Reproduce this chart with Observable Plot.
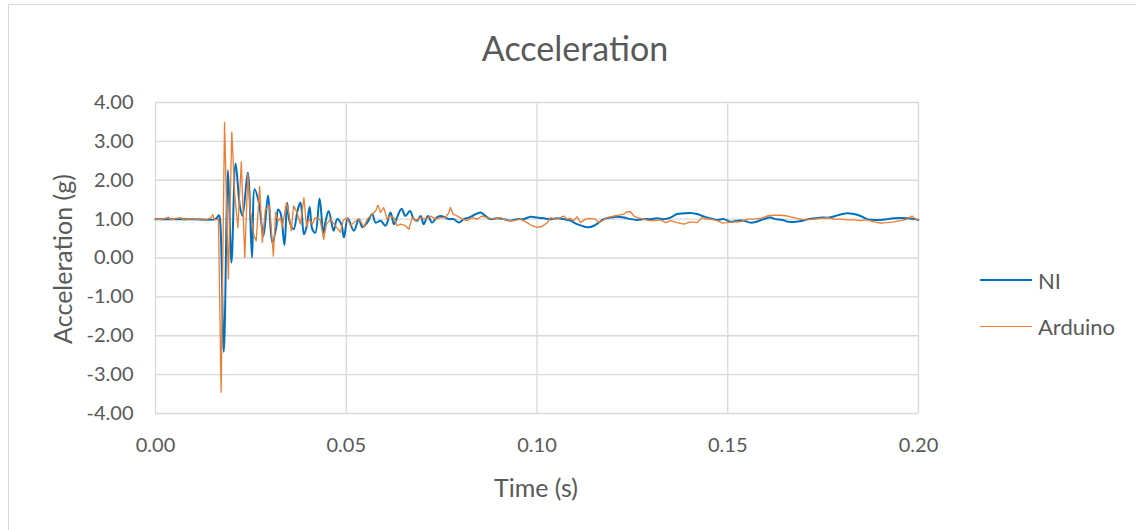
<!DOCTYPE html>
<html><head><meta charset="utf-8">
<script src="https://cdn.jsdelivr.net/npm/d3@7"></script>
<script src="https://cdn.jsdelivr.net/npm/@observablehq/plot@0.6"></script>
<style>
body{margin:0;background:#fff;overflow:hidden;}
#wrap{position:relative;width:1136px;height:530px;overflow:hidden;font-family:Lato,sans-serif;color:#595959;background:#fff;}
#frame{position:absolute;left:8px;top:4px;width:1140px;height:540px;border:1px solid #d9d9d9;box-sizing:border-box;}
#title{position:absolute;left:0;top:28px;width:1150px;line-height:40px;text-align:center;font-size:34px;}
#chart{position:absolute;left:0;top:70px;}
.lab{position:absolute;white-space:nowrap;font-size:25px;transform:translate(-50%,-50%);}
#ylab{transform:translate(-50%,-50%) rotate(-90deg);}
.leg{position:absolute;left:980px;height:20px;font-size:22px;display:flex;align-items:center;}
.leg span.sw{display:inline-block;width:52px;margin-right:6px;}
</style></head>
<body>
<div id="wrap">
  <div id="frame"></div>
  <div id="title">Acceleration</div>
  <div id="chart"></div>
  <div class="lab" id="ylab" style="left:62px;top:259px;">Acceleration (g)</div>
  <div class="lab" style="left:536px;top:487px;">Time (s)</div>
  <div id="legend"></div>
</div>
<script>
const seriesNames = ["NI", "Arduino"];
const seriesColors = ["#0070C0", "#ED7D31"];
const xTicks = [0, 0.05, 0.10, 0.15, 0.20];
const yTicks = [-4, -3, -2, -1, 0, 1, 2, 3, 4];

// NI samples: [time (s), acceleration (g)]
const niPts = [[0,1.00],[0.005,1.00],[0.010,1.00],[0.0157,1.00],[0.0166,1.10],[0.0169,1.00],[0.0179,-2.41],[0.0190,2.26],[0.0199,-0.12],[0.0210,2.43],[0.0221,1.34],[0.0228,1.08],[0.0242,2.19],[0.0253,0.01],[0.0260,1.77],[0.0271,1.42],[0.0283,0.57],[0.0295,1.61],[0.0306,0.40],[0.0317,0.82],[0.0321,1.25],[0.0328,1.15],[0.0338,0.33],[0.0345,1.42],[0.0351,0.95],[0.0362,0.74],[0.0373,1.25],[0.0380,1.43],[0.0389,0.61],[0.0396,0.80],[0.0404,1.31],[0.0411,0.74],[0.0419,0.65],[0.0430,1.53],[0.0440,0.65],[0.0446,0.95],[0.0454,1.21],[0.0467,0.70],[0.0476,1.00],[0.0487,0.87],[0.0494,0.53],[0.0504,1.02],[0.0520,0.70],[0.0533,1.00],[0.0542,0.79],[0.0555,0.91],[0.0568,1.13],[0.0577,0.91],[0.0590,0.96],[0.0603,0.83],[0.0616,1.17],[0.0625,0.87],[0.0633,1.04],[0.0645,1.27],[0.0655,1.08],[0.0667,1.21],[0.0677,1.00],[0.0686,0.96],[0.0695,1.08],[0.0703,0.87],[0.0714,1.08],[0.0725,0.91],[0.0737,1.04],[0.0747,1.08],[0.0760,1.04],[0.0769,1.00],[0.0782,1.00],[0.0795,0.91],[0.0808,1.00],[0.0821,1.04],[0.0834,1.10],[0.0852,1.17],[0.0865,1.08],[0.0878,1.00],[0.0896,1.02],[0.0913,1.00],[0.0930,0.96],[0.0948,1.00],[0.0965,1.00],[0.0983,1.06],[0.1000,1.04],[0.1018,1.02],[0.1035,1.00],[0.1053,1.02],[0.1070,1.00],[0.1088,0.96],[0.1105,0.87],[0.1123,0.81],[0.1136,0.79],[0.1149,0.83],[0.1162,0.91],[0.1175,1.00],[0.1193,1.04],[0.1210,1.06],[0.1228,1.04],[0.1245,1.00],[0.1263,0.98],[0.1280,1.00],[0.1297,1.00],[0.1315,1.02],[0.1332,1.00],[0.1350,1.04],[0.1367,1.13],[0.1385,1.15],[0.1402,1.16],[0.1420,1.13],[0.1437,1.07],[0.1455,1.02],[0.1472,0.98],[0.1490,1.00],[0.1507,0.93],[0.1525,0.96],[0.1542,0.96],[0.1560,0.91],[0.1577,0.94],[0.1594,1.00],[0.1612,1.04],[0.1625,1.00],[0.1643,0.98],[0.1660,0.93],[0.1678,0.93],[0.1695,0.96],[0.1712,1.00],[0.1730,1.02],[0.1747,1.04],[0.1765,1.04],[0.1782,1.08],[0.1800,1.13],[0.1813,1.15],[0.1830,1.13],[0.1848,1.08],[0.1865,1.00],[0.1883,0.98],[0.1900,0.98],[0.1918,1.00],[0.1935,1.02],[0.1953,1.03],[0.1970,1.02],[0.1988,1.00],[0.2000,0.98]];

// Arduino samples: [time (s), acceleration (g)]
const arPts = [[0,1.00],[0.0018,0.99],[0.0034,1.05],[0.0040,0.99],[0.0052,1.01],[0.0066,1.04],[0.0072,0.99],[0.0079,0.98],[0.0092,1.01],[0.0105,1.00],[0.0118,0.98],[0.0131,0.98],[0.0144,1.02],[0.0150,1.12],[0.0155,0.98],[0.0165,1.00],[0.0172,-3.45],[0.0181,3.49],[0.0191,-0.54],[0.0200,3.24],[0.0208,1.59],[0.0216,0.78],[0.0225,2.47],[0.0234,0.01],[0.0242,2.15],[0.0248,1.25],[0.0258,0.57],[0.0264,0.44],[0.0273,1.84],[0.0280,0.40],[0.0288,1.25],[0.0299,1.34],[0.0309,0.05],[0.0315,1.17],[0.0321,0.95],[0.0328,1.04],[0.0332,0.78],[0.0343,1.42],[0.0349,1.17],[0.0356,0.70],[0.0362,1.34],[0.0371,1.17],[0.0380,0.87],[0.0389,1.55],[0.0396,0.82],[0.0402,1.00],[0.0411,0.87],[0.0419,1.04],[0.0431,1.00],[0.0441,0.48],[0.0448,0.87],[0.0459,1.00],[0.0472,0.82],[0.0485,0.66],[0.0492,0.96],[0.0502,1.04],[0.0511,0.83],[0.0520,0.91],[0.0530,1.00],[0.0537,0.96],[0.0546,0.79],[0.0555,1.00],[0.0568,1.13],[0.0577,1.21],[0.0583,1.36],[0.0590,1.17],[0.0598,1.30],[0.0607,1.00],[0.0614,1.08],[0.0625,1.04],[0.0633,0.83],[0.0642,0.87],[0.0655,0.83],[0.0664,0.74],[0.0673,1.04],[0.0681,0.96],[0.0695,1.04],[0.0708,1.00],[0.0721,1.08],[0.0734,1.00],[0.0747,1.04],[0.0760,1.04],[0.0769,1.17],[0.0773,1.30],[0.0780,1.13],[0.0791,1.08],[0.0804,1.00],[0.0817,0.96],[0.0830,1.04],[0.0843,1.00],[0.0856,1.08],[0.0869,1.04],[0.0887,1.00],[0.0904,1.04],[0.0922,0.96],[0.0939,0.96],[0.0957,1.00],[0.0974,0.91],[0.0987,0.83],[0.1000,0.79],[0.1013,0.81],[0.1027,0.91],[0.1035,1.04],[0.1048,1.00],[0.1062,1.04],[0.1070,1.08],[0.1079,1.00],[0.1088,1.02],[0.1096,0.96],[0.1105,1.06],[0.1114,0.91],[0.1127,1.00],[0.1140,1.02],[0.1153,1.00],[0.1162,0.91],[0.1171,0.96],[0.1184,1.04],[0.1201,1.08],[0.1214,1.10],[0.1228,1.13],[0.1236,1.19],[0.1245,1.19],[0.1254,1.08],[0.1263,1.04],[0.1280,1.00],[0.1293,0.96],[0.1306,0.96],[0.1324,0.98],[0.1337,0.91],[0.1350,0.96],[0.1367,0.91],[0.1385,0.87],[0.1402,0.93],[0.1420,0.91],[0.1433,1.04],[0.1441,1.00],[0.1455,1.00],[0.1472,0.96],[0.1485,0.90],[0.1498,0.91],[0.1516,0.93],[0.1533,0.93],[0.1551,1.00],[0.1568,1.00],[0.1586,1.02],[0.1603,1.08],[0.1621,1.10],[0.1638,1.10],[0.1656,1.08],[0.1673,1.04],[0.1691,1.00],[0.1708,0.98],[0.1726,1.00],[0.1743,1.02],[0.1761,1.04],[0.1778,1.00],[0.1796,1.00],[0.1813,0.98],[0.1830,0.98],[0.1848,0.96],[0.1865,0.98],[0.1883,0.93],[0.1900,0.90],[0.1918,0.91],[0.1935,0.93],[0.1953,0.96],[0.1970,1.00],[0.1983,1.08],[0.1992,1.00],[0.2000,0.98]];

const ni = niPts.map(([t, a]) => ({t, a}));
const ar = arPts.map(([t, a]) => ({t, a}));

const chart = Plot.plot({
  width: 1136,
  height: 460,
  marginLeft: 155,
  marginRight: 218,
  marginTop: 32,
  marginBottom: 117,
  style: {fontFamily: "Lato, sans-serif", fontSize: "20px", color: "#595959", background: "transparent"},
  x: {domain: [0, 0.2]},
  y: {domain: [-4, 4]},
  marks: [
    Plot.gridX(xTicks, {stroke: "#d9d9d9", strokeOpacity: 1, strokeWidth: 1.3}),
    Plot.gridY(yTicks, {stroke: "#d9d9d9", strokeOpacity: 1, strokeWidth: 1.3}),
    Plot.axisX(xTicks, {tickSize: 0, tickPadding: 24, tickFormat: d => d.toFixed(2), label: null, fill: "#595959"}),
    Plot.axisY(yTicks, {tickSize: 0, tickPadding: 22, tickFormat: d => d.toFixed(2), label: null, fill: "#595959"}),
    Plot.line(ni, {x: "t", y: "a", stroke: seriesColors[0], strokeWidth: 2, curve: "catmull-rom"}),
    Plot.line(ar, {x: "t", y: "a", stroke: seriesColors[1], strokeWidth: 1.3})
  ]
});
document.getElementById("chart").appendChild(chart);

const leg = document.getElementById("legend");
seriesNames.forEach((n, i) => {
  const d = document.createElement("div");
  d.className = "leg";
  d.style.top = (270 + i * 46) + "px";
  d.innerHTML = `<span class="sw" style="border-top:${i ? 1.3 : 2}px solid ${seriesColors[i]}"></span>${n}`;
  leg.appendChild(d);
});
</script>
</body></html>
